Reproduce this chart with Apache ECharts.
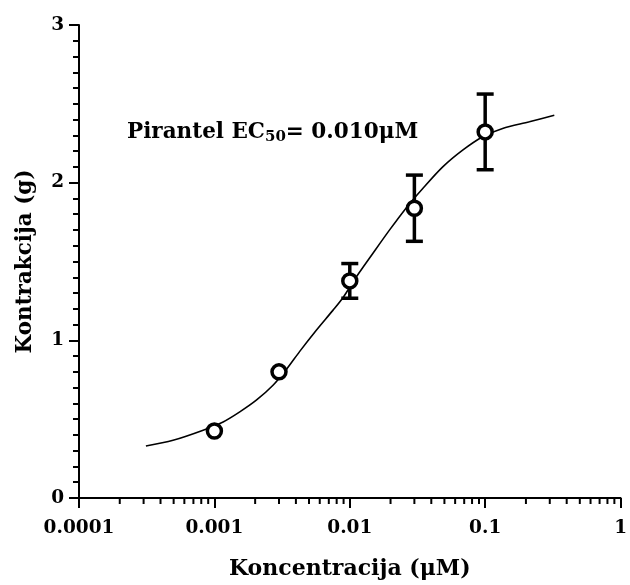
<!DOCTYPE html>
<html>
<head>
<meta charset="utf-8">
<script src="https://cdn.jsdelivr.net/npm/echarts@6/dist/echarts.min.js"></script>
<style>html,body{margin:0;padding:0;background:#fff}#c{width:630px;height:585px}</style>
</head>
<body>
<div id="c"></div>
<script>
// Measured points (concentration µM, contraction g, SEM)
const concentrations = [0.001, 0.003, 0.01, 0.03, 0.1];
const contraction = [0.425, 0.80, 1.377, 1.838, 2.322];
const errors = [0, 0, 0.11, 0.21, 0.24];

// Fitted curve
const curveX = [0.000312, 0.000495, 0.000826, 0.00116, 0.00154, 0.00204, 0.00271, 0.0034, 0.00427, 0.00566, 0.0075, 0.0089, 0.01117, 0.01479, 0.01963, 0.0261, 0.0346, 0.0486, 0.0682, 0.0959, 0.1346, 0.212, 0.324];
const curveY = [0.330, 0.366, 0.430, 0.482, 0.546, 0.620, 0.715, 0.815, 0.930, 1.064, 1.190, 1.270, 1.402, 1.551, 1.699, 1.840, 1.963, 2.100, 2.206, 2.291, 2.344, 2.386, 2.428];

const xTickLabels = ['0.0001', '0.001', '0.01', '0.1', '1'];
const yTicks = [0, 1, 2, 3];

const FONT = 'DejaVu Serif';

const minorX = [];
[0.0001, 0.001, 0.01, 0.1].forEach(d => { for (let k = 2; k <= 9; k++) minorX.push(d * k); });

const chart = echarts.init(document.getElementById('c'));
chart.setOption({
  animation: false,
  backgroundColor: '#fff',
  grid: { left: 79, right: 9, top: 25, bottom: 87, containLabel: false },
  xAxis: {
    type: 'log', logBase: 10, min: 0.0001, max: 1,
    name: 'Koncentracija (μM)', nameLocation: 'middle', nameGap: 60,
    nameTextStyle: { fontFamily: FONT, fontWeight: 'bold', fontSize: 22, color: '#000' },
    axisLine: { show: true, onZero: false, lineStyle: { color: '#000', width: 2 } },
    axisTick: { show: true, inside: false, length: 10, lineStyle: { color: '#000', width: 2 } },
    axisLabel: { fontFamily: FONT, fontWeight: 'bold', fontSize: 18.5, color: '#000', margin: 21,
      formatter: v => { const i = Math.round(Math.log10(v)) + 4; return xTickLabels[i] !== undefined ? xTickLabels[i] : ''; } },
    splitLine: { show: false }
  },
  yAxis: {
    type: 'value', min: 0, max: 3, interval: 1,
    name: 'Kontrakcija (g)', nameLocation: 'middle', nameGap: 43,
    nameTextStyle: { fontFamily: FONT, fontWeight: 'bold', fontSize: 21.5, color: '#000' },
    axisLine: { show: true, lineStyle: { color: '#000', width: 2 } },
    axisTick: { show: true, length: 10, lineStyle: { color: '#000', width: 2 } },
    minorTick: { show: true, splitNumber: 10, length: 6, lineStyle: { color: '#000', width: 2 } },
    axisLabel: { fontFamily: FONT, fontWeight: 'bold', fontSize: 18.5, color: '#000', margin: 15,
      formatter: v => yTicks.includes(v) ? String(v) : '' },
    splitLine: { show: false }
  },
  graphic: [{
    type: 'text', left: 127, top: 121,
    style: {
      text: '{a|Pirantel EC}{s|50}{a|= 0.010μM}',
      rich: {
        a: { fontFamily: FONT, fontWeight: 'bold', fontSize: 21.5, fill: '#000', color: '#000' },
        s: { fontFamily: FONT, fontWeight: 'bold', fontSize: 15, fill: '#000', color: '#000', padding: [11, 0, 0, 0] }
      }
    }
  }],
  series: [
    {
      type: 'line', data: curveX.map((x, i) => [x, curveY[i]]),
      smooth: 0.3, showSymbol: false, symbol: 'none',
      lineStyle: { color: '#000', width: 1.6 }, z: 2
    },
    {
      type: 'custom', z: 3,
      data: concentrations.map((x, i) => [x, contraction[i], errors[i]]),
      renderItem: (params, api) => {
        const x = api.value(0), y = api.value(1), e = api.value(2);
        if (!e) return null;
        const top = api.coord([x, y + e]);
        const bot = api.coord([x, y - e]);
        const hw = 8.5;
        const st = { stroke: '#000', lineWidth: 3.5 };
        return { type: 'group', children: [
          { type: 'line', shape: { x1: top[0], y1: top[1], x2: bot[0], y2: bot[1] }, style: st },
          { type: 'line', shape: { x1: top[0] - hw, y1: top[1], x2: top[0] + hw, y2: top[1] }, style: st },
          { type: 'line', shape: { x1: bot[0] - hw, y1: bot[1], x2: bot[0] + hw, y2: bot[1] }, style: st }
        ]};
      }
    },
    {
      type: 'scatter', z: 4,
      data: concentrations.map((x, i) => [x, contraction[i]]),
      symbol: 'circle', symbolSize: 14,
      itemStyle: { color: '#fff', borderColor: '#000', borderWidth: 3.5, opacity: 1 }
    },
    {
      type: 'custom', z: 1, clip: false, silent: true,
      data: minorX.map(v => [v, 0]),
      renderItem: (params, api) => {
        const p = api.coord([api.value(0), 0]);
        return { type: 'line', shape: { x1: p[0], y1: p[1], x2: p[0], y2: p[1] + 6 },
          style: { stroke: '#000', lineWidth: 2 } };
      }
    }
  ]
});
</script>
</body>
</html>
